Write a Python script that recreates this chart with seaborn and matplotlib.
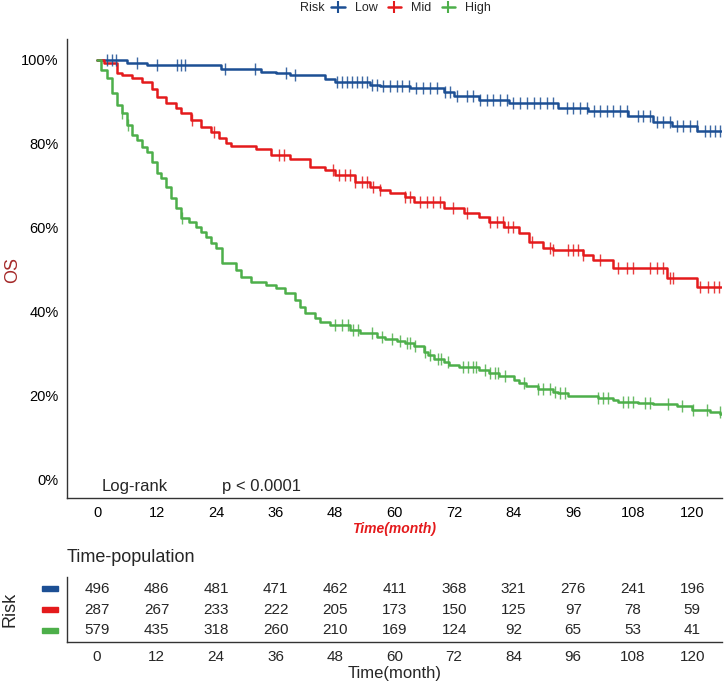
import numpy as np
import pandas as pd
import matplotlib
matplotlib.use("Agg")
import matplotlib.pyplot as plt
from matplotlib.lines import Line2D
from matplotlib.patches import Rectangle
import seaborn as sns

sns.set_theme(style="white")
plt.rcParams['font.family'] = ['Liberation Sans', 'DejaVu Sans']

# ---------------- data ----------------
groups = ["Low", "Mid", "High"]
colors = {"Low": "#1c4f94", "Mid": "#e41a1c", "High": "#4daf4a"}

low_t = [0, 6, 10, 25, 33, 36, 39, 46, 48, 55, 57, 63, 70, 72, 77, 83, 93, 99, 107, 112, 116, 121, 125.8]
low_s = [1.0, 0.994, 0.988, 0.979, 0.971, 0.968, 0.964, 0.955, 0.948, 0.940, 0.938, 0.933, 0.924, 0.914,
         0.905, 0.898, 0.886, 0.879, 0.867, 0.852, 0.843, 0.831, 0.831]

mid_t = [0, 1.5, 4, 5, 7, 9, 11, 12, 14, 16, 17, 19, 21, 23, 24.5, 26, 27, 32, 35, 39, 43, 46, 48, 52, 55,
         57, 59, 62, 64, 70, 74, 77, 79, 82, 85, 87, 90, 92, 98, 100, 104, 115, 121, 125.8]
mid_s = [1.0, 0.993, 0.970, 0.964, 0.957, 0.948, 0.930, 0.912, 0.897, 0.886, 0.874, 0.857, 0.840, 0.829,
         0.814, 0.802, 0.795, 0.788, 0.774, 0.764, 0.745, 0.738, 0.726, 0.710, 0.698, 0.690, 0.684, 0.674,
         0.662, 0.648, 0.636, 0.626, 0.614, 0.602, 0.588, 0.567, 0.552, 0.548, 0.536, 0.524, 0.505, 0.481,
         0.460, 0.460]

high_t = [0, 0.8, 2, 3, 4, 5, 6, 7, 8, 9, 10, 11, 12, 13, 14, 15, 16, 17, 18.5, 20, 21, 22, 23, 24, 25.2,
          28, 29, 31, 34, 36, 38, 40, 41, 42, 44, 45, 47, 51, 53, 56.5, 58, 60.5, 62, 64, 66, 66.8, 68, 70,
          71, 73, 77, 79, 81, 84, 85, 86.5, 89, 92, 93, 95, 101, 104, 105, 109, 112, 117, 120, 123.6, 125.6, 126]
high_s = [1.0, 0.976, 0.957, 0.921, 0.893, 0.874, 0.845, 0.821, 0.810, 0.793, 0.781, 0.757, 0.731, 0.719,
          0.698, 0.671, 0.648, 0.624, 0.614, 0.602, 0.590, 0.579, 0.564, 0.552, 0.517, 0.500, 0.484, 0.471,
          0.464, 0.457, 0.445, 0.429, 0.412, 0.398, 0.386, 0.376, 0.369, 0.357, 0.350, 0.340, 0.336, 0.331,
          0.326, 0.319, 0.305, 0.298, 0.288, 0.281, 0.274, 0.269, 0.262, 0.255, 0.248, 0.238, 0.231, 0.224,
          0.217, 0.210, 0.207, 0.200, 0.195, 0.190, 0.186, 0.183, 0.181, 0.176, 0.167, 0.162, 0.157, 0.157]

low_cens = [2.0, 3.0, 3.8, 8.0, 12.0, 16.1, 16.9, 17.7, 25.8, 31.9, 38.2, 39.9, 48.3, 49.3, 50.3, 51.4, 52.4,
            53.4, 54.4, 55.4, 56.4, 57.7, 59.1, 60.4, 61.4, 62.8, 64.4, 65.8, 67.1, 68.5, 70.2, 71.2, 72.5,
            74.5, 75.9, 77.2, 78.6, 79.9, 81.3, 82.6, 83.9, 85.3, 86.6, 88.0, 89.3, 90.7, 92.0, 94.7, 96.0,
            97.4, 98.7, 100.1, 101.4, 102.8, 104.1, 105.4, 106.8, 109.1, 110.1, 111.5, 112.8, 114.2, 115.5,
            116.9, 118.2, 119.6, 120.9, 122.6, 123.6, 124.6, 125.5]
mid_cens = [19.1, 23.5, 36.6, 37.6, 47.6, 48.7, 50.0, 51.0, 52.0, 53.4, 54.4, 55.7, 57.1, 62.1, 63.1, 65.1,
            66.5, 67.8, 69.2, 71.8, 74.5, 79.2, 80.6, 81.9, 82.9, 83.9, 87.6, 91.3, 92.0, 95.0, 96.0, 97.0,
            98.0, 101.4, 105.1, 106.8, 108.1, 111.5, 112.8, 114.2, 115.5, 116.2, 121.6, 123.2, 124.3, 125.3]
high_cens = [5.0, 6.3, 17.1, 48.0, 49.3, 50.7, 51.7, 52.7, 55.5, 57.4, 59.4, 61.1, 62.4, 63.1, 64.1, 66.1,
             67.1, 68.8, 69.4, 70.8, 73.8, 74.8, 75.8, 76.5, 78.2, 79.2, 80.2, 80.9, 82.3, 86.0, 89.0, 90.0,
             91.3, 92.3, 93.3, 94.4, 101.1, 102.1, 103.1, 106.1, 107.1, 108.1, 110.5, 111.5, 115.2, 117.9,
             120.2, 122.9, 125.5]

time_ticks = [0, 12, 24, 36, 48, 60, 72, 84, 96, 108, 120]
risk_low = [496, 486, 481, 471, 462, 411, 368, 321, 276, 241, 196]
risk_mid = [287, 267, 233, 222, 205, 173, 150, 125, 97, 78, 59]
risk_high = [579, 435, 318, 260, 210, 169, 124, 92, 65, 53, 41]

# ---------------- frames ----------------
steps = {"Low": (low_t, low_s), "Mid": (mid_t, mid_s), "High": (high_t, high_s)}
cens = {"Low": low_cens, "Mid": mid_cens, "High": high_cens}
risk = {"Low": risk_low, "Mid": risk_mid, "High": risk_high}

curve_df = pd.concat([pd.DataFrame({"time": t, "surv": s, "Risk": g}) for g, (t, s) in steps.items()],
                     ignore_index=True)

cens_rows = []
for g in groups:
    t, s = np.array(steps[g][0]), np.array(steps[g][1])
    for c in cens[g]:
        idx = np.searchsorted(t, c, side="right") - 1
        cens_rows.append({"time": c, "surv": s[idx], "Risk": g})
cens_df = pd.DataFrame(cens_rows)

# ---------------- figure ----------------
W, H = 725, 686
fig = plt.figure(figsize=(W / 100, H / 100), dpi=100)

def px_axes(x0, y0, x1, y1):
    return fig.add_axes([x0 / W, 1 - y1 / H, (x1 - x0) / W, (y1 - y0) / H])

ax = px_axes(67, 39, 722, 498)
XMIN, XMAX = -6.05, 126.0

sns.lineplot(data=curve_df, x="time", y="surv", hue="Risk", hue_order=groups, palette=colors,
             drawstyle="steps-post", estimator=None, sort=False, linewidth=1.8, legend=False, ax=ax)
for g in groups:
    sub = cens_df[cens_df["Risk"] == g]
    ax.scatter(sub["time"], sub["surv"], marker="|", s=70, linewidths=1.0, color=colors[g], alpha=0.85, zorder=3)

ax.set_xlim(XMIN, XMAX)
ax.set_ylim(-0.043, 1.05)
ax.set_xticks(time_ticks)
ax.set_xticklabels([str(v) for v in time_ticks], fontsize=10.5)
ax.set_yticks([0, 0.2, 0.4, 0.6, 0.8, 1.0])
ax.set_yticklabels(["0%", "20%", "40%", "60%", "80%", "100%"], fontsize=10.5)
for sp in ["top", "right"]:
    ax.spines[sp].set_visible(False)
for sp in ["left", "bottom"]:
    ax.spines[sp].set_color("#333333")
    ax.spines[sp].set_linewidth(1.0)
ax.tick_params(axis="both", direction="out", length=4, width=0.8, color="#333333", labelcolor="black", pad=2)
ax.set_xlabel("Time(month)", color="#e41a1c", fontsize=10, fontweight="bold", fontstyle="italic", labelpad=1)
ax.set_ylabel("")
fig.text(13 / W, 1 - 270 / H, "OS", rotation=90, color="#a52a2a", fontsize=13, va="center", ha="center")

ax.text(1.0, -0.016, "Log-rank", fontsize=12, va="center", ha="left")
ax.text(25.2, -0.016, "p < 0.0001", fontsize=12, va="center", ha="left")

# legend at top
handles = [Line2D([], [], color=colors[g], lw=1.8, marker="|", markersize=9, markeredgewidth=1.5) for g in groups]
fig.text(300 / W, 1 - 8 / H, "Risk", fontsize=9, va="center", ha="left")
leg = fig.legend(handles, groups, loc="center left", bbox_to_anchor=(331 / W, 1 - 8 / H), ncol=3,
                 frameon=False, fontsize=9, handlelength=1.1, handletextpad=0.8, columnspacing=0.8,
                 borderaxespad=0, borderpad=0)

# ---------------- risk table ----------------
axt = px_axes(67, 577, 722, 642)
axt.set_xlim(XMIN, XMAX)
axt.set_ylim(3.55, 0.45)
for i, g in enumerate(groups):
    for tt, n in zip(time_ticks, risk[g]):
        axt.text(tt, i + 1, str(n), ha="center", va="center", fontsize=11)
    axt.add_patch(Rectangle((-11.1, i + 1 - 0.11), 3.2, 0.22, color=colors[g], clip_on=False))
axt.set_yticks([])
axt.set_xticks(time_ticks)
axt.set_xticklabels([str(v) for v in time_ticks], fontsize=11)
for sp in ["top", "right"]:
    axt.spines[sp].set_visible(False)
for sp in ["left", "bottom"]:
    axt.spines[sp].set_color("#333333")
    axt.spines[sp].set_linewidth(1.0)
axt.tick_params(axis="x", direction="out", length=4, width=0.8, color="#333333", pad=2)
axt.set_xlabel("Time(month)", fontsize=12, labelpad=1)
fig.text(10 / W, 1 - 609 / H, "Risk", rotation=90, fontsize=13, va="center", ha="center")
fig.text(67 / W, 1 - 557 / H, "Time-population", fontsize=13, va="center", ha="left")

fig.savefig("out.png", dpi=100)
